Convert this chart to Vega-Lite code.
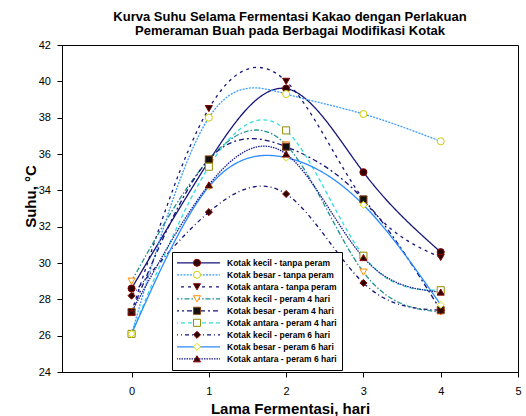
{
  "$schema": "https://vega.github.io/schema/vega-lite/v6.json",
  "width": 456,
  "height": 327,
  "autosize": "none",
  "padding": {"left": 62, "top": 45, "right": 8, "bottom": 44},
  "title": {
    "text": ["Kurva Suhu Selama Fermentasi Kakao dengan Perlakuan", "Pemeraman Buah pada Berbagai Modifikasi Kotak"],
    "font": "Liberation Sans", "fontSize": 13, "fontWeight": "bold", "lineHeight": 14.5,
    "anchor": "middle", "frame": "group", "offset": 1, "color": "black"
  },
  "data": {"values": [
    {"x": 0, "y": 28.6, "series": "Kotak kecil - tanpa peram"},
    {"x": 1, "y": 35.6, "series": "Kotak kecil - tanpa peram"},
    {"x": 2, "y": 39.6, "series": "Kotak kecil - tanpa peram"},
    {"x": 3, "y": 35.0, "series": "Kotak kecil - tanpa peram"},
    {"x": 4, "y": 30.6, "series": "Kotak kecil - tanpa peram"},
    {"x": 0, "y": 26.1, "series": "Kotak besar - tanpa peram"},
    {"x": 1, "y": 38.0, "series": "Kotak besar - tanpa peram"},
    {"x": 2, "y": 39.3, "series": "Kotak besar - tanpa peram"},
    {"x": 3, "y": 38.2, "series": "Kotak besar - tanpa peram"},
    {"x": 4, "y": 36.7, "series": "Kotak besar - tanpa peram"},
    {"x": 0, "y": 27.3, "series": "Kotak antara - tanpa peram"},
    {"x": 1, "y": 38.5, "series": "Kotak antara - tanpa peram"},
    {"x": 2, "y": 40.0, "series": "Kotak antara - tanpa peram"},
    {"x": 3, "y": 33.5, "series": "Kotak antara - tanpa peram"},
    {"x": 4, "y": 30.3, "series": "Kotak antara - tanpa peram"},
    {"x": 0, "y": 29.0, "series": "Kotak kecil - peram 4 hari"},
    {"x": 1, "y": 35.7, "series": "Kotak kecil - peram 4 hari"},
    {"x": 2, "y": 36.5, "series": "Kotak kecil - peram 4 hari"},
    {"x": 3, "y": 29.5, "series": "Kotak kecil - peram 4 hari"},
    {"x": 4, "y": 27.3, "series": "Kotak kecil - peram 4 hari"},
    {"x": 0, "y": 27.3, "series": "Kotak besar - peram 4 hari"},
    {"x": 1, "y": 35.7, "series": "Kotak besar - peram 4 hari"},
    {"x": 2, "y": 36.4, "series": "Kotak besar - peram 4 hari"},
    {"x": 3, "y": 33.5, "series": "Kotak besar - peram 4 hari"},
    {"x": 4, "y": 27.4, "series": "Kotak besar - peram 4 hari"},
    {"x": 0, "y": 26.1, "series": "Kotak antara - peram 4 hari"},
    {"x": 1, "y": 35.3, "series": "Kotak antara - peram 4 hari"},
    {"x": 2, "y": 37.3, "series": "Kotak antara - peram 4 hari"},
    {"x": 3, "y": 30.4, "series": "Kotak antara - peram 4 hari"},
    {"x": 4, "y": 28.5, "series": "Kotak antara - peram 4 hari"},
    {"x": 0, "y": 28.2, "series": "Kotak kecil - peram 6 hari"},
    {"x": 1, "y": 32.8, "series": "Kotak kecil - peram 6 hari"},
    {"x": 2, "y": 33.8, "series": "Kotak kecil - peram 6 hari"},
    {"x": 3, "y": 28.9, "series": "Kotak kecil - peram 6 hari"},
    {"x": 4, "y": 27.4, "series": "Kotak kecil - peram 6 hari"},
    {"x": 0, "y": 26.1, "series": "Kotak besar - peram 6 hari"},
    {"x": 1, "y": 34.2, "series": "Kotak besar - peram 6 hari"},
    {"x": 2, "y": 35.8, "series": "Kotak besar - peram 6 hari"},
    {"x": 3, "y": 33.2, "series": "Kotak besar - peram 6 hari"},
    {"x": 4, "y": 27.7, "series": "Kotak besar - peram 6 hari"},
    {"x": 0, "y": 27.3, "series": "Kotak antara - peram 6 hari"},
    {"x": 1, "y": 34.3, "series": "Kotak antara - peram 6 hari"},
    {"x": 2, "y": 36.0, "series": "Kotak antara - peram 6 hari"},
    {"x": 3, "y": 30.3, "series": "Kotak antara - peram 6 hari"},
    {"x": 4, "y": 28.4, "series": "Kotak antara - peram 6 hari"}
  ]},
  "encoding": {
    "x": {
      "field": "x", "type": "quantitative",
      "scale": {"domain": [-0.9, 5], "nice": false, "zero": false},
      "axis": {"values": [0, 1, 2, 3, 4, 5], "format": "d", "title": "Lama Fermentasi, hari", "titleY": 29, "labelPadding": 8, "labelFlush": false}
    },
    "y": {
      "field": "y", "type": "quantitative",
      "scale": {"domain": [24, 42], "nice": false, "zero": false},
      "axis": {"values": [24, 26, 28, 30, 32, 34, 36, 38, 40, 42], "title": "Suhu, °C", "titleX": -27, "titleY": 151, "titleBaseline": "alphabetic", "labelPadding": 6.5, "labelFlush": false}
    }
  },
  "layer": [
    {
      "mark": {"type": "line", "interpolate": "natural", "strokeWidth": 1.3},
      "encoding": {
        "color": {
          "field": "series", "type": "nominal",
          "scale": {
            "domain": ["Kotak kecil - tanpa peram", "Kotak besar - tanpa peram", "Kotak antara - tanpa peram", "Kotak kecil - peram 4 hari", "Kotak besar - peram 4 hari", "Kotak antara - peram 4 hari", "Kotak kecil - peram 6 hari", "Kotak besar - peram 6 hari", "Kotak antara - peram 6 hari"],
            "range": ["#15157a", "#3d9cff", "#15157a", "#1f8f8f", "#15157a", "#33dddd", "#15157a", "#2b8cff", "#1a1a8c"]
          },
          "legend": {"orient": "none", "legendX": 110, "legendY": 207, "title": null, "symbolType": "stroke", "symbolSize": 2116, "symbolStrokeWidth": 1.3, "symbolOffset": -4, "labelOffset": 6, "clipHeight": 11.6, "rowPadding": 0, "padding": 5, "strokeColor": "black", "fillColor": "white", "labelLimit": 300}
        },
        "strokeDash": {
          "field": "series", "type": "nominal",
          "scale": {
            "domain": ["Kotak kecil - tanpa peram", "Kotak besar - tanpa peram", "Kotak antara - tanpa peram", "Kotak kecil - peram 4 hari", "Kotak besar - peram 4 hari", "Kotak antara - peram 4 hari", "Kotak kecil - peram 6 hari", "Kotak besar - peram 6 hari", "Kotak antara - peram 6 hari"],
            "range": [[1, 0], [2, 1.2], [3, 4], [5, 2, 1.5, 2], [5, 3, 2, 3], [4, 3], [4, 3, 1, 3], [1, 0], [1.5, 1]]
          },
          "legend": {"orient": "none", "legendX": 110, "legendY": 207, "title": null, "symbolType": "stroke", "symbolSize": 2116, "symbolStrokeWidth": 1.3, "symbolOffset": -4, "labelOffset": 6, "clipHeight": 11.6, "rowPadding": 0, "padding": 5, "strokeColor": "black", "fillColor": "white", "labelLimit": 300}
        }
      }
    },
    {
      "mark": {"type": "point", "filled": true, "size": 50, "strokeWidth": 1, "opacity": 1},
      "encoding": {
        "shape": {
          "field": "series", "type": "nominal", "sort": null,
          "scale": {"range": ["circle", "circle", "triangle-down", "triangle-down", "square", "square", "diamond", "diamond", "triangle-up"]},
          "legend": {"orient": "none", "legendX": 110, "legendY": 207, "title": null, "symbolSize": 50, "symbolStrokeWidth": 1, "symbolOffset": 15.5, "clipHeight": 11.6, "rowPadding": 0, "padding": 5, "labelExpr": "''"}
        },
        "fill": {
          "field": "series", "type": "nominal", "sort": null,
          "scale": {"range": ["#2a0505", "#ffffff", "#2a0505", "#ffffff", "#111111", "#ffffff", "#2a0505", "#ffffff", "#2a0505"]},
          "legend": {"orient": "none", "legendX": 110, "legendY": 207, "title": null, "symbolSize": 50, "symbolStrokeWidth": 1, "symbolOffset": 15.5, "clipHeight": 11.6, "rowPadding": 0, "padding": 5, "labelExpr": "''"}
        },
        "stroke": {
          "field": "series", "type": "nominal", "sort": null,
          "scale": {"range": ["#8b0000", "#cccc00", "#8b0000", "#ff8c00", "#8b4513", "#8f8f00", "#8b0000", "#dddd00", "#8b0000"]},
          "legend": {"orient": "none", "legendX": 110, "legendY": 207, "title": null, "symbolSize": 50, "symbolStrokeWidth": 1, "symbolOffset": 15.5, "clipHeight": 11.6, "rowPadding": 0, "padding": 5, "labelExpr": "''"}
        }
      }
    }
  ],
  "config": {
    "view": {"stroke": "black", "strokeWidth": 1},
    "axis": {
      "grid": false, "domainColor": "black", "domainWidth": 1, "tickColor": "black", "tickSize": 5,
      "labelColor": "black", "labelFont": "Liberation Sans", "labelFontSize": 11,
      "titleFont": "Liberation Sans", "titleFontSize": 15, "titleFontWeight": "bold", "titleColor": "black"
    },
    "legend": {"labelFont": "Liberation Sans", "labelFontSize": 8.5, "labelFontWeight": "bold", "labelColor": "black"}
  }
}
